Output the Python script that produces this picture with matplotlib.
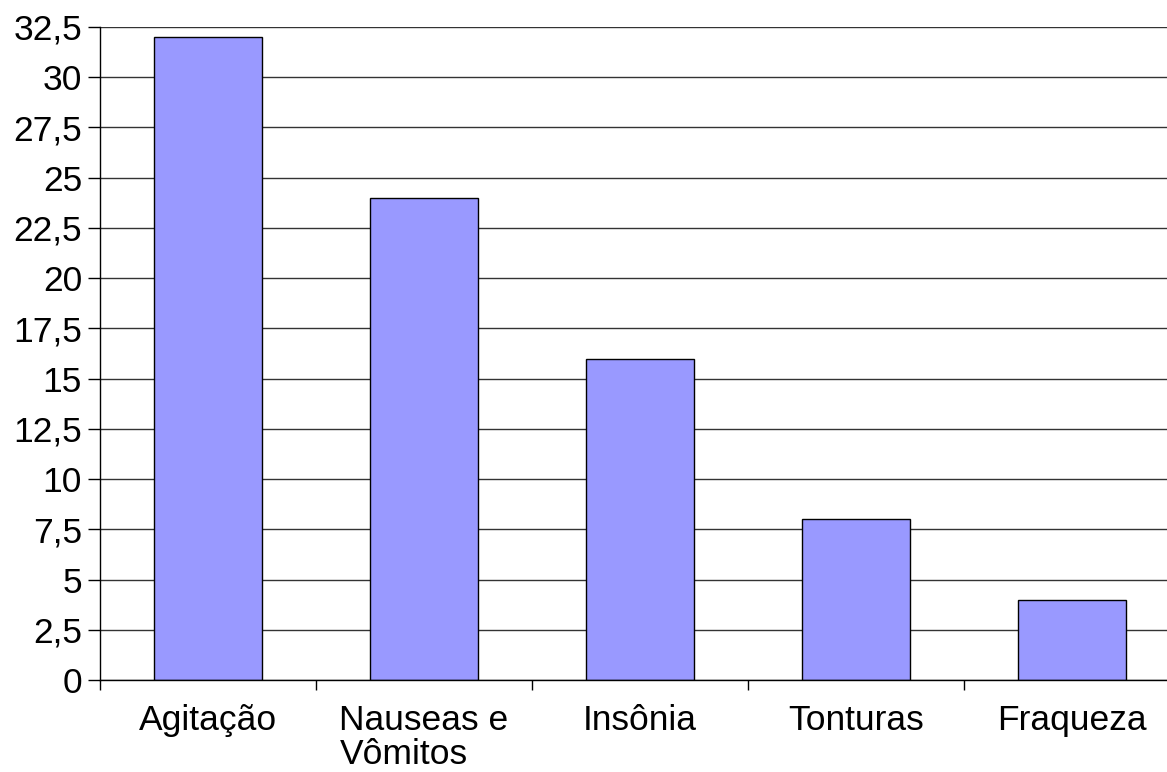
import matplotlib
matplotlib.use("Agg")
import matplotlib.pyplot as plt
from matplotlib.ticker import FuncFormatter

categories = ["Agitação", "Nauseas e\nVômitos", "Insônia", "Tonturas", "Fraqueza"]
values = [32, 24, 16, 8, 4]
y_ticks = [i * 2.5 for i in range(14)]

plt.rcParams["font.family"] = ["Liberation Sans", "DejaVu Sans"]

fig = plt.figure(figsize=(11.67, 7.72), dpi=100)
ax = fig.add_axes([100 / 1167, 92 / 772, 1080 / 1167, 653 / 772])

x = range(len(categories))
ax.bar(x, values, width=0.5, color="#9999ff", edgecolor="black",
       linewidth=1, zorder=3)

ax.set_xlim(-0.5, len(categories) - 0.5)
ax.set_ylim(0, 32.5)
ax.set_yticks(y_ticks)
ax.yaxis.set_major_formatter(
    FuncFormatter(lambda v, _: f"{v:g}".replace(".", ",")))
ax.grid(axis="y", color="#333333", linewidth=1, zorder=0)

# category boundaries as major ticks, labels on minor ticks
ax.set_xticks([i - 0.5 for i in range(len(categories) + 1)])
ax.set_xticklabels([])
ax.set_xticks(list(x), minor=True)
ax.set_xticklabels(categories, minor=True, fontsize=25.5,
                   multialignment="left", va="top", linespacing=1.05)
ax.tick_params(axis="x", which="minor", length=0, pad=17)
ax.tick_params(axis="x", which="major", length=7.2, width=1, direction="out")
ax.tick_params(axis="y", length=8.6, width=1, labelsize=25.5, pad=4.3)

for side in ["top", "right"]:
    ax.spines[side].set_visible(False)
for side in ["left", "bottom"]:
    ax.spines[side].set_color("black")
    ax.spines[side].set_linewidth(1)
    ax.spines[side].set_zorder(4)

fig.savefig("out.png", dpi=100)
